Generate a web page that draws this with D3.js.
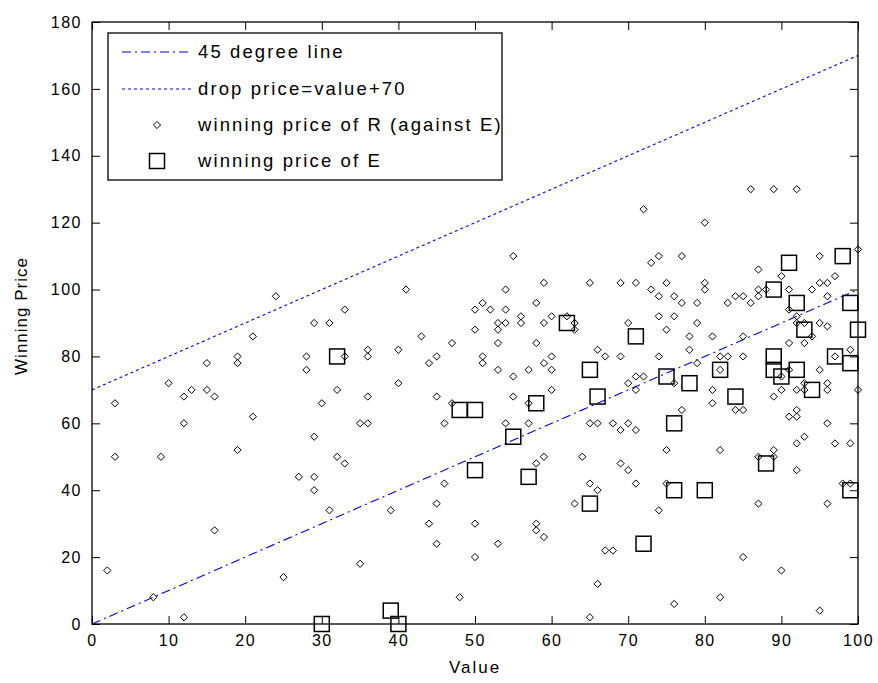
<!DOCTYPE html>
<html>
<head>
<meta charset="utf-8">
<script src="https://cdn.jsdelivr.net/npm/d3@7"></script>
<style>
body { margin: 0; background: #fff; }
text { font-family: "Liberation Sans", Arial, sans-serif; }
</style>
</head>
<body>
<svg id="chart" width="878" height="683"></svg>
<script>
// ---- data ----
const xTicks = [0,10,20,30,40,50,60,70,80,90,100];
const yTicks = [0,20,40,60,80,100,120,140,160,180];
const lineX = [0, 100];
const line45Y = [0, 100];
const dropY = [70, 170];
const rX = [2,3,3,8,9,10,12,12,12,13,15,15,16,16,19,19,19,21,21,24,25,
27,28,28,29,29,29,29,30,31,31,32,32,33,33,33,35,35,36,36,36,36,39,40,40,41,43,44,44,45,45,45,45,46,46,47,47,48,
50,50,50,50,51,51,51,52,53,53,53,53,53,54,54,54,54,55,55,55,56,56,57,57,57,58,58,58,58,58,59,59,59,59,59,60,60,60,60,
62,63,63,63,64,65,65,65,65,66,66,66,66,67,67,68,68,69,69,69,69,70,70,70,70,71,71,71,71,71,72,72,73,73,74,74,74,74,74,
75,75,75,75,76,76,76,76,77,77,77,78,78,79,79,79,80,80,80,81,81,81,82,82,82,82,83,83,84,84,85,85,85,85,85,
86,86,87,87,87,87,87,88,89,89,89,89,90,90,90,90,91,91,91,91,91,92,92,92,92,92,92,92,92,93,93,93,93,93,94,94,95,95,95,95,95,96,96,96,96,96,96,96,97,97,97,98,99,99,99,100,100];
const rY = [16,66,50,8,50,72,68,60,2,70,70,78,68,28,80,78,52,86,62,98,14,
44,80,76,90,56,44,40,66,90,34,70,50,80,94,48,60,18,82,80,68,60,34,82,72,100,86,78,30,80,68,36,24,60,42,84,66,8,
94,88,30,20,96,80,78,94,90,88,84,76,24,100,94,90,60,110,74,68,92,90,76,66,60,96,84,48,30,28,102,90,78,50,26,92,80,76,70,
92,90,88,36,50,102,60,42,2,82,60,40,12,80,22,60,22,102,80,58,48,90,72,60,46,102,74,70,58,42,124,74,108,100,110,98,92,80,34,
102,88,52,42,98,92,72,6,110,96,64,86,82,96,90,78,120,102,100,86,70,66,80,76,52,8,96,80,98,64,98,86,80,64,20,
130,96,106,100,98,50,36,100,130,68,52,50,104,74,70,16,100,94,84,76,62,130,92,90,70,64,62,54,46,90,84,72,70,56,100,86,110,102,90,76,4,102,98,89,72,70,60,36,104,80,54,42,82,54,42,112,70];
const eX = [30,32,39,40,48,50,50,55,57,58,62,65,65,66,71,72,75,76,76,78,80,82,84,88,89,89,89,90,91,92,92,93,94,97,98,99,99,99,100];
const eY = [0,80,4,0,64,64,46,56,44,66,90,76,36,68,86,24,74,60,40,72,40,76,68,48,100,80,76,74,108,96,76,88,70,80,110,96,78,40,88];
const legendLabels = ["45 degree line", "drop price=value+70", "winning price of R (against E)", "winning price of E"];
const xLabel = "Value";
const yLabel = "Winning Price";

// ---- layout ----
const svg = d3.select("#chart");
const L = 92, R = 858, T = 22, B = 624;
const x = d3.scaleLinear().domain([0,100]).range([L,R]);
const y = d3.scaleLinear().domain([0,180]).range([B,T]);
const blue = "#0000ff";

svg.append("rect").attr("width",878).attr("height",683).attr("fill","#fff");

// lines
const lineGen = d3.line().x(d=>x(d[0])).y(d=>y(d[1]));
svg.append("path").datum(lineX.map((v,i)=>[v,line45Y[i]]))
  .attr("d",lineGen).attr("fill","none").attr("stroke",blue).attr("stroke-width",1.1)
  .attr("stroke-dasharray","9,4,2,4");
svg.append("path").datum(lineX.map((v,i)=>[v,dropY[i]]))
  .attr("d",lineGen).attr("fill","none").attr("stroke",blue).attr("stroke-width",1.1)
  .attr("stroke-dasharray","3,3");

// diamonds
const dsz = 3.6;
function diamond(cx, cy, s){ return `M${cx},${cy-s}L${cx+s},${cy}L${cx},${cy+s}L${cx-s},${cy}Z`; }
svg.append("g").selectAll("path").data(rX.map((v,i)=>[v,rY[i]])).join("path")
  .attr("d",d=>diamond(x(d[0]),y(d[1]),dsz))
  .attr("fill","none").attr("stroke","#000").attr("stroke-width",1);

// squares
const ssz = 15;
svg.append("g").selectAll("rect").data(eX.map((v,i)=>[v,eY[i]])).join("rect")
  .attr("x",d=>x(d[0])-ssz/2).attr("y",d=>y(d[1])-ssz/2)
  .attr("width",ssz).attr("height",ssz)
  .attr("fill","none").attr("stroke","#000").attr("stroke-width",1.5);

// axes
const tickLen = 8;
const xAxisB = d3.axisBottom(x).tickValues(xTicks).tickSizeInner(-tickLen).tickSizeOuter(0).tickPadding(11);
const yAxisL = d3.axisLeft(y).tickValues(yTicks).tickSizeInner(-tickLen).tickSizeOuter(0).tickPadding(10);
const xAxisT = d3.axisTop(x).tickValues(xTicks).tickSizeInner(-tickLen).tickSizeOuter(0).tickFormat("");
const yAxisR = d3.axisRight(y).tickValues(yTicks).tickSizeInner(-tickLen).tickSizeOuter(0).tickFormat("");
function style(g){
  g.select(".domain").remove();
  g.selectAll("line").attr("stroke","#000").attr("stroke-width",1);
  g.selectAll("text").attr("font-size",16).attr("fill","#000")
    .attr("font-family","Liberation Sans, Arial, sans-serif").attr("letter-spacing","1.5px");
}
svg.append("g").attr("transform",`translate(0,${B})`).call(xAxisB).call(style);
svg.append("g").attr("transform",`translate(${L},0)`).call(yAxisL).call(style);
svg.append("g").attr("transform",`translate(0,${T})`).call(xAxisT).call(style);
svg.append("g").attr("transform",`translate(${R},0)`).call(yAxisR).call(style);
svg.append("rect").attr("x",L).attr("y",T).attr("width",R-L).attr("height",B-T)
  .attr("fill","none").attr("stroke","#000").attr("stroke-width",1.3);

svg.append("text").attr("x",(L+R)/2).attr("y",673).attr("text-anchor","middle")
  .attr("font-size",17).attr("letter-spacing","2px").text(xLabel);
svg.append("text").attr("transform",`translate(27,316) rotate(-90)`).attr("text-anchor","middle")
  .attr("font-size",17).attr("letter-spacing","1px").text(yLabel);

// legend
const lg = svg.append("g");
lg.append("rect").attr("x",108).attr("y",33).attr("width",394).attr("height",147)
  .attr("fill","#fff").attr("stroke","#000").attr("stroke-width",1.3);
const rows = [52, 89, 125, 161];
lg.append("line").attr("x1",122).attr("x2",192).attr("y1",rows[0]).attr("y2",rows[0])
  .attr("stroke",blue).attr("stroke-width",1.1).attr("stroke-dasharray","9,4,2,4");
lg.append("line").attr("x1",122).attr("x2",192).attr("y1",rows[1]).attr("y2",rows[1])
  .attr("stroke",blue).attr("stroke-width",1.1).attr("stroke-dasharray","3,3");
lg.append("path").attr("d",diamond(157,rows[2],dsz)).attr("fill","none").attr("stroke","#000");
lg.append("rect").attr("x",157-ssz/2).attr("y",rows[3]-ssz/2).attr("width",ssz).attr("height",ssz)
  .attr("fill","none").attr("stroke","#000").attr("stroke-width",1.5);
lg.selectAll("text.lbl").data(legendLabels).join("text").attr("class","lbl")
  .attr("x",198).attr("y",(d,i)=>rows[i]).attr("dy","0.35em")
  .attr("font-size",18.5).attr("letter-spacing","2.1px").attr("fill","#000").text(d=>d);
</script>
</body>
</html>
